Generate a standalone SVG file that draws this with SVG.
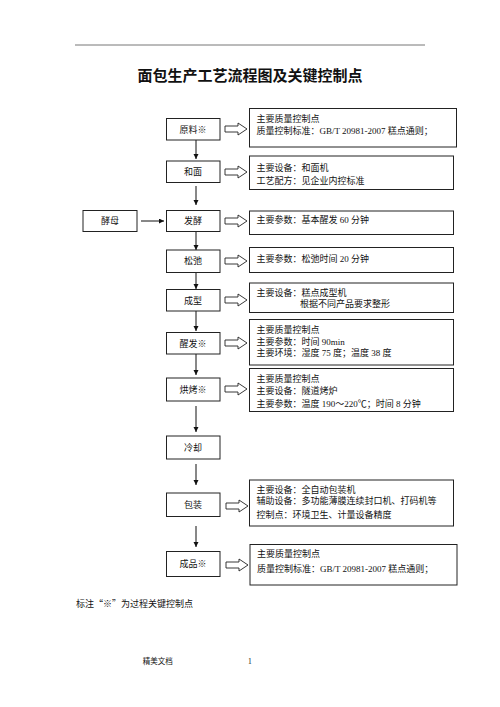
<svg xmlns="http://www.w3.org/2000/svg" xmlns:xlink="http://www.w3.org/1999/xlink" width="500" height="707" viewBox="0 0 500 707">
<style>
.bg{fill:#ffffff}
.box{fill:#ffffff;stroke:#222;stroke-width:1}
.t{font-family:"Liberation Serif","Noto Sans CJK SC",serif;font-size:9px;fill:#111}
.c{font-family:"Liberation Serif","Noto Sans CJK SC",serif;font-size:9px;fill:#111;text-anchor:middle}
.title{font-family:"Noto Sans CJK SC","Liberation Sans",sans-serif;font-size:15px;font-weight:bold;fill:#111;text-anchor:middle}
.conn{stroke:#111;stroke-width:1;fill:none;marker-end:url(#ah)}
.hol{fill:#ffffff;stroke:#222;stroke-width:0.9}
.note{font-family:"Liberation Serif","Noto Sans CJK SC",serif;font-size:9px;fill:#111}
.q{font-family:"Noto Sans CJK SC",sans-serif}
.foot{font-family:"Liberation Serif","Noto Sans CJK SC",serif;font-size:7.5px;fill:#111}
</style>
<defs>
<marker id="ah" markerUnits="userSpaceOnUse" markerWidth="5" markerHeight="6" refX="5" refY="2.5" orient="auto">
<path d="M0,0 L5,2.5 L0,5 Z" fill="#111"/>
</marker>
<path id="harrow" d="M0,-3 H13 V-6 L22,0 L13,6 V3 H0 Z"/>
</defs>
<rect class="bg" x="0" y="0" width="500" height="707"/>
<line x1="75" y1="45" x2="425" y2="45" stroke="#777" stroke-width="1"/>
<text class="title" x="250" y="81">面包生产工艺流程图及关键控制点</text>

<g id="connectors">
<line class="conn" x1="196" y1="140" x2="196" y2="159"/>
<line class="conn" x1="196" y1="186" x2="196" y2="205"/>
<line class="conn" x1="196" y1="232" x2="196" y2="250"/>
<line class="conn" x1="196" y1="272" x2="196" y2="289"/>
<line class="conn" x1="196" y1="311" x2="196" y2="331"/>
<line class="conn" x1="196" y1="354" x2="196" y2="375"/>
<line class="conn" x1="196" y1="406" x2="196" y2="432"/>
<line class="conn" x1="196" y1="464" x2="196" y2="485"/>
<line class="conn" x1="196" y1="526" x2="196" y2="547"/>
<line class="conn" x1="141" y1="221" x2="164" y2="221"/>
<use class="hol" xlink:href="#harrow" x="225" y="129"/>
<use class="hol" xlink:href="#harrow" x="225" y="172"/>
<use class="hol" xlink:href="#harrow" x="225" y="221"/>
<use class="hol" xlink:href="#harrow" x="225" y="261"/>
<use class="hol" xlink:href="#harrow" x="225" y="300"/>
<use class="hol" xlink:href="#harrow" x="225" y="343"/>
<use class="hol" xlink:href="#harrow" x="225" y="389"/>
<use class="hol" xlink:href="#harrow" x="226" y="506"/>
<use class="hol" xlink:href="#harrow" x="226" y="565"/>
</g>

<g id="n-yuanliao"><rect class="box" x="166.5" y="118.5" width="53.5" height="21.5"/><text class="c" x="193" y="132.5">原料※</text></g>
<g id="n-hemian"><rect class="box" x="166.5" y="161" width="53.5" height="21.5"/><text class="c" x="193" y="175">和面</text></g>
<g id="n-jiaomu"><rect class="box" x="83" y="210.5" width="54" height="21"/><text class="c" x="110" y="224.2">酵母</text></g>
<g id="n-fajiao"><rect class="box" x="166.5" y="210.5" width="53.5" height="21"/><text class="c" x="193" y="224.2">发酵</text></g>
<g id="n-songchi"><rect class="box" x="166.5" y="250" width="53.5" height="22.5"/><text class="c" x="193" y="264.4">松弛</text></g>
<g id="n-chengxing"><rect class="box" x="166.5" y="289.5" width="53.5" height="21.5"/><text class="c" x="193" y="303.5">成型</text></g>
<g id="n-xingfa"><rect class="box" x="166.5" y="332.5" width="53.5" height="21.5"/><text class="c" x="193" y="346.5">醒发※</text></g>
<g id="n-hongkao"><rect class="box" x="166.5" y="378" width="53.5" height="23"/><text class="c" x="193" y="392.7">烘烤※</text></g>
<g id="n-lengque"><rect class="box" x="166.5" y="436" width="53.5" height="23"/><text class="c" x="193" y="450.7">冷却</text></g>
<g id="n-baozhuang"><rect class="box" x="166.5" y="493" width="53.5" height="23.5"/><text class="c" x="193" y="508">包装</text></g>
<g id="n-chengpin"><rect class="box" x="166.5" y="551.5" width="53.5" height="25"/><text class="c" x="193" y="567">成品※</text></g>

<g id="r-yuanliao"><rect class="box" x="249.5" y="108.5" width="207" height="38.5"/>
<text class="t" x="256.5" y="121.6">主要质量控制点</text>
<text class="t" x="256.5" y="133.5">质量控制标准：GB/T 20981-2007 糕点通则；</text></g>
<g id="r-hemian"><rect class="box" x="249.5" y="156" width="204" height="33.5"/>
<text class="t" x="256.5" y="171.3">主要设备：和面机</text>
<text class="t" x="256.5" y="184">工艺配方：见企业内控标准</text></g>
<g id="r-fajiao"><rect class="box" x="249.5" y="211" width="204" height="23.5"/>
<text class="t" x="256.5" y="223.3">主要参数：基本醒发 60 分钟</text></g>
<g id="r-songchi"><rect class="box" x="249.5" y="247.5" width="204" height="25"/>
<text class="t" x="256.5" y="261.6">主要参数：松弛时间 20 分钟</text></g>
<g id="r-chengxing"><rect class="box" x="249.5" y="283" width="204" height="29.5"/>
<text class="t" x="256.5" y="296">主要设备：糕点成型机</text>
<text class="t" x="300" y="306.6">根据不同产品要求整形</text></g>
<g id="r-xingfa"><rect class="box" x="249.5" y="319.5" width="204" height="45.5"/>
<text class="t" x="256.5" y="332.6">主要质量控制点</text>
<text class="t" x="256.5" y="344.6">主要参数：时间 90min</text>
<text class="t" x="256.5" y="356">主要环境：湿度 75 度；温度 38 度</text></g>
<g id="r-hongkao"><rect class="box" x="249.5" y="368.5" width="204" height="43"/>
<text class="t" x="256.5" y="381.6">主要质量控制点</text>
<text class="t" x="256.5" y="393.8">主要设备：隧道烤炉</text>
<text class="t" x="256.5" y="407.3">主要参数：温度 190～220℃；时间 8 分钟</text></g>
<g id="r-baozhuang"><rect class="box" x="249.5" y="480" width="204" height="46"/>
<text class="t" x="256.5" y="492.6">主要设备：全自动包装机</text>
<text class="t" x="256.5" y="504.3">辅助设备：多功能薄膜连续封口机、打码机等</text>
<text class="t" x="256.5" y="517.6">控制点：环境卫生、计量设备精度</text></g>
<g id="r-chengpin"><rect class="box" x="250" y="544.5" width="207" height="40.5"/>
<text class="t" x="257" y="557.3">主要质量控制点</text>
<text class="t" x="257" y="572.3">质量控制标准：GB/T 20981-2007 糕点通则；</text></g>

<text class="note" x="76" y="606.5">标注<tspan class="q">“</tspan>※<tspan class="q">”</tspan>为过程关键控制点</text>
<text class="foot" x="142.7" y="663.5">精美文档</text>
<text class="foot" x="248" y="663.5">1</text>
</svg>
